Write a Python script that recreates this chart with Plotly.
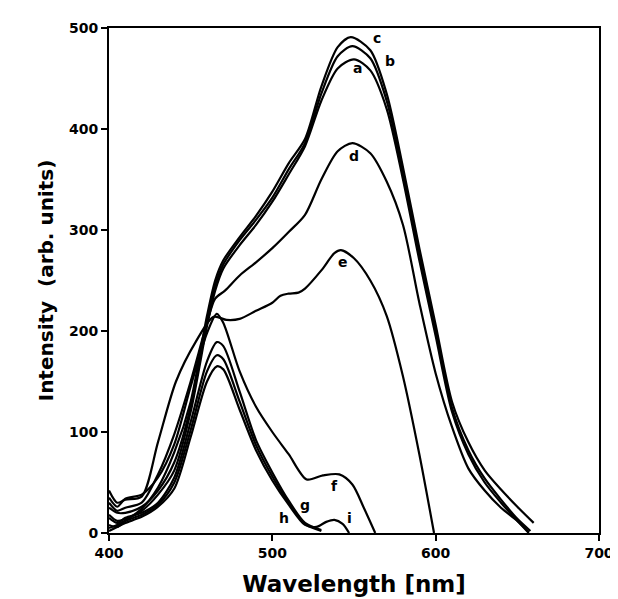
import plotly.graph_objects as go

# ---- data ----
wl_a = [400, 405, 410, 420, 430, 440, 450, 460, 465, 470, 480, 490, 500, 510, 520, 530, 540, 550, 560, 570, 580, 590, 600, 610, 620, 630, 640, 650, 657]
in_a = [18, 12, 14, 22, 38, 62, 120, 205, 240, 262, 285, 305, 328, 355, 383, 428, 460, 469, 458, 420, 350, 270, 195, 120, 78, 50, 30, 12, 0]

wl_b = [400, 405, 410, 420, 430, 440, 450, 460, 465, 470, 480, 490, 500, 510, 520, 530, 540, 549, 560, 570, 580, 590, 600, 610, 620, 630, 640, 650, 658]
in_b = [25, 20, 20, 26, 42, 70, 125, 210, 245, 266, 290, 310, 332, 360, 386, 435, 472, 482, 470, 428, 356, 275, 200, 124, 82, 54, 33, 14, 2]

wl_c = [400, 405, 410, 420, 430, 440, 450, 460, 465, 470, 480, 490, 500, 510, 520, 530, 540, 548, 560, 570, 580, 590, 600, 610, 620, 630, 640, 650, 660]
in_c = [8, 6, 12, 24, 45, 80, 130, 215, 250, 270, 293, 314, 338, 366, 390, 442, 481, 491, 478, 435, 362, 282, 206, 130, 90, 62, 43, 26, 10]

wl_d = [400, 405, 410, 420, 430, 440, 450, 460, 465, 471, 480, 490, 500, 510, 520, 530, 540, 549, 560, 570, 580, 590, 600, 610, 620, 630, 640, 650, 657]
in_d = [30, 22, 25, 30, 58, 98, 150, 208, 232, 240, 255, 268, 282, 298, 315, 350, 378, 386, 376, 348, 305, 228, 158, 105, 64, 42, 25, 12, 1]

wl_e = [400, 405, 410, 420, 430, 441, 453, 464, 472, 480, 490, 500, 505, 510, 516, 520, 530, 538, 542, 550, 560, 570, 580, 590, 599]
in_e = [42, 30, 33, 36, 90, 150, 189, 214, 211, 212, 220, 228, 235, 237, 238, 242, 260, 277, 280, 272, 250, 215, 155, 78, 0]

wl_f = [400, 405, 410, 420, 430, 440, 450, 460, 466, 470, 480, 490, 500, 510, 521, 531, 541, 549, 556, 563]
in_f = [35, 26, 34, 38, 55, 88, 145, 198, 217, 208, 160, 125, 100, 78, 53, 57, 58, 48, 25, 0]

wl_g = [400, 405, 410, 420, 430, 440, 450, 460, 466, 470, 480, 490, 500, 510, 520, 530]
in_g = [15, 10, 15, 20, 30, 55, 110, 170, 189, 185, 140, 92, 60, 32, 10, 3]

wl_h = [400, 405, 410, 420, 430, 440, 450, 460, 466, 470, 480, 490, 500, 510, 520, 530]
in_h = [5, 8, 12, 18, 28, 50, 102, 160, 176, 172, 130, 87, 56, 30, 9, 2]

wl_i = [400, 405, 410, 420, 430, 440, 450, 460, 466, 470, 480, 490, 500, 510, 520, 527, 533, 538, 543, 547]
in_i = [2, 6, 10, 16, 26, 44, 95, 150, 165, 162, 122, 82, 52, 28, 8, 6, 11, 13, 9, 0]

series = [
    ("a", wl_a, in_a), ("b", wl_b, in_b), ("c", wl_c, in_c),
    ("d", wl_d, in_d), ("e", wl_e, in_e), ("f", wl_f, in_f),
    ("g", wl_g, in_g), ("h", wl_h, in_h), ("i", wl_i, in_i),
]

label_names = ["c", "b", "a", "d", "e", "f", "g", "h", "i"]
label_x = [564, 572, 552, 550, 543, 538, 520, 507, 547]
label_y = [490, 467, 460, 373, 268, 47, 28, 15, 15]

x_ticks = [400, 500, 600, 700]
y_ticks = [0, 100, 200, 300, 400, 500]

# ---- figure ----
FONT = "DejaVu Sans"
fig = go.Figure()
for name, xs, ys in series:
    fig.add_trace(go.Scatter(
        x=xs, y=ys, mode="lines", name=name,
        line=dict(color="black", width=2.2, shape="spline", smoothing=0.8),
        showlegend=False,
    ))

for t, lx, ly in zip(label_names, label_x, label_y):
    fig.add_annotation(x=lx, y=ly, text="<b>%s</b>" % t, showarrow=False,
                       font=dict(family=FONT, size=14, color="black"))

axis_font = dict(family=FONT, size=14, color="black")
fig.update_layout(
    width=618, height=599,
    margin=dict(l=101, r=17, t=19, b=74),
    paper_bgcolor="white", plot_bgcolor="white",
    xaxis=dict(
        range=[400, 700], tickvals=x_ticks, ticktext=["<b>%d</b>" % v for v in x_ticks],
        showgrid=False, zeroline=False, showline=True, mirror=True,
        linecolor="black", linewidth=2, ticks="outside", ticklen=6, tickwidth=2,
        tickcolor="black", tickfont=axis_font,
        title=dict(text="<b>Wavelength [nm]</b>", standoff=16,
                   font=dict(family=FONT, size=23, color="black")),
    ),
    yaxis=dict(
        range=[0, 500], tickvals=y_ticks, ticktext=["<b>%d</b>" % v for v in y_ticks],
        showgrid=False, zeroline=False, showline=True, mirror=True,
        linecolor="black", linewidth=2, ticks="outside", ticklen=6, tickwidth=2,
        tickcolor="black", tickfont=axis_font,
        title=dict(text="<b>Intensity  (arb. units)</b>", standoff=10,
                   font=dict(family=FONT, size=20, color="black")),
    ),
)

fig.write_html("out.html")
